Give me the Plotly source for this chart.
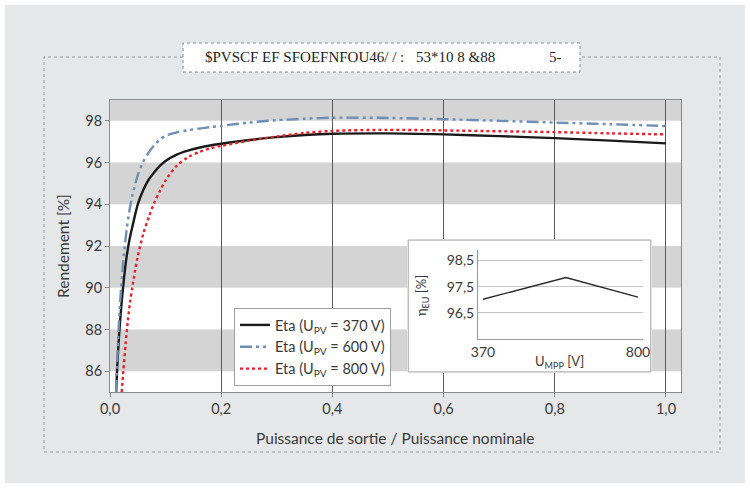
import plotly.graph_objects as go

W, H = 750, 488
def px(x): return x / W
def py(y): return 1 - y / H

# ---------------- data ----------------
ratio_370 = [0.011, 0.013, 0.016, 0.02, 0.025, 0.03, 0.035, 0.04, 0.05, 0.06, 0.07, 0.08, 0.09, 0.1,
             0.12, 0.14, 0.16, 0.18, 0.2, 0.25, 0.3, 0.35, 0.4, 0.5, 0.6, 0.7, 0.8, 0.9, 1.0]
eta_370 = [85.0, 86.2, 87.6, 89.0, 90.4, 91.5, 92.3, 92.9, 94.0, 94.7, 95.2, 95.55, 95.85, 96.08,
           96.38, 96.57, 96.71, 96.82, 96.9, 97.08, 97.22, 97.32, 97.38, 97.4, 97.35, 97.27, 97.17, 97.05, 96.92]

ratio_600 = [0.011, 0.013, 0.016, 0.02, 0.025, 0.03, 0.035, 0.04, 0.05, 0.06, 0.07, 0.08, 0.09, 0.1,
             0.12, 0.14, 0.16, 0.18, 0.2, 0.25, 0.3, 0.35, 0.4, 0.5, 0.6, 0.7, 0.8, 0.9, 1.0]
eta_600 = [85.0, 86.5, 88.3, 90.0, 91.6, 92.8, 93.7, 94.4, 95.4, 96.05, 96.5, 96.85, 97.1, 97.28,
           97.45, 97.55, 97.63, 97.7, 97.76, 97.92, 98.03, 98.1, 98.15, 98.14, 98.08, 98.0, 97.92, 97.84, 97.75]

ratio_800 = [0.021, 0.024, 0.028, 0.032, 0.036, 0.04, 0.045, 0.05, 0.06, 0.07, 0.08, 0.09, 0.1,
             0.12, 0.14, 0.16, 0.18, 0.2, 0.25, 0.3, 0.35, 0.4, 0.5, 0.6, 0.7, 0.8, 0.9, 1.0]
eta_800 = [85.0, 86.0, 87.3, 88.4, 89.3, 90.0, 90.8, 91.5, 92.6, 93.4, 94.1, 94.65, 95.15,
           95.85, 96.25, 96.5, 96.68, 96.8, 97.05, 97.25, 97.42, 97.52, 97.57, 97.54, 97.5, 97.46, 97.4, 97.35]

series_names = ["Eta (U<sub>PV</sub> = 370 V)", "Eta (U<sub>PV</sub> = 600 V)", "Eta (U<sub>PV</sub> = 800 V)"]

inset_u = [370, 600, 800]
inset_eta_eu = [97.02, 97.85, 97.1]

x_ticks = [0.0, 0.2, 0.4, 0.6, 0.8, 1.0]
y_ticks = [86, 88, 90, 92, 94, 96, 98]
inset_x_ticks = [370, 800]
inset_y_ticks = [96.5, 97.5, 98.5]
band_ranges = [(86, 88), (90, 92), (94, 96), (98, 99)]

title_parts = ["$PVSCF EF SFOEFNFOU46/ / :", "53*10 8 &88", "5-"]

# ---------------- figure ----------------
FONT = "Lato"
TXT = "#3a3a3a"

fig = go.Figure()

fig.add_trace(go.Scatter(x=ratio_370, y=eta_370, name=series_names[0], mode="lines",
                         line=dict(color="#1a1a1a", width=2.4, shape="spline", smoothing=0.8),
                         xaxis="x", yaxis="y", hoverinfo="skip"))
fig.add_trace(go.Scatter(x=ratio_600, y=eta_600, name=series_names[1], mode="lines",
                         line=dict(color="#6f8fb6", width=2.4, dash="12px,4px,3px,4px,3px,4px",
                                   shape="spline", smoothing=0.8),
                         xaxis="x", yaxis="y", hoverinfo="skip"))
fig.add_trace(go.Scatter(x=ratio_800, y=eta_800, name=series_names[2], mode="lines",
                         line=dict(color="#e8222c", width=2.4, dash="dot", shape="spline", smoothing=0.8),
                         xaxis="x", yaxis="y", hoverinfo="skip"))

# inset white box (own subplot so it sits above main grid/bands)
fig.add_trace(go.Scatter(x=[0, 1, 1, 0, 0], y=[0, 0, 1, 1, 0], mode="lines", fill="toself",
                         fillcolor="white", line=dict(color="#a0a0a0", width=1),
                         xaxis="x2", yaxis="y2", showlegend=False, hoverinfo="skip"))

# inset line
fig.add_trace(go.Scatter(x=inset_u, y=inset_eta_eu, mode="lines",
                         line=dict(color="#2a2a2a", width=1.4),
                         xaxis="x3", yaxis="y3", showlegend=False, hoverinfo="skip"))

shapes = []
for y0, y1 in band_ranges:
    shapes.append(dict(type="rect", xref="x domain", yref="y", x0=0, x1=1, y0=y0, y1=y1,
                       fillcolor="#d4d4d4", line=dict(width=0), layer="below"))
# outer dotted frame
shapes.append(dict(type="rect", xref="paper", yref="paper", x0=px(44), x1=px(720), y0=py(452), y1=py(57),
                   line=dict(color="#9a9a9a", width=1, dash="dot"), fillcolor="rgba(0,0,0,0)", layer="below"))
# title box
shapes.append(dict(type="rect", xref="paper", yref="paper", x0=px(183), x1=px(580), y0=py(72), y1=py(43),
                   line=dict(color="#8a8a8a", width=1, dash="dot"), fillcolor="white", layer="above"))
# white page margin
shapes.append(dict(type="rect", xref="paper", yref="paper", x0=0, x1=1, y0=0, y1=1,
                   line=dict(color="white", width=10), fillcolor="rgba(0,0,0,0)", layer="above"))

def ann(text, x, y, size, angle=0, xanchor="center", family=FONT, color=TXT):
    return dict(text=text, x=px(x), y=py(y), xref="paper", yref="paper", textangle=angle,
                xanchor=xanchor, yanchor="middle", showarrow=False,
                font=dict(size=size, color=color, family=family))

annotations = [
    ann("Rendement [%]", 63, 246, 15.5, angle=-90),
    ann("Puissance de sortie / Puissance nominale", 395, 438, 15.5),
    ann("η<sub>EU</sub> [%]", 422, 296, 13, angle=-90),
    ann("U<sub>MPP</sub> [V]", 559, 362, 13),
    ann(title_parts[0], 203, 57, 15, xanchor="left", family="Liberation Serif", color="#222"),
    ann(title_parts[1], 414, 57, 15, xanchor="left", family="Liberation Serif", color="#222"),
    ann(title_parts[2], 547, 57, 15, xanchor="left", family="Liberation Serif", color="#222"),
]

fig.update_layout(
    width=W, height=H,
    margin=dict(l=0, r=0, t=0, b=0),
    paper_bgcolor="#e5e7e9",
    plot_bgcolor="white",
    separators=", ",
    font=dict(family=FONT, color=TXT),
    showlegend=True,
    legend=dict(x=px(234), y=py(308), xanchor="left", yanchor="top", bgcolor="white",
                bordercolor="#a0a0a0", borderwidth=1, font=dict(size=14.5, color=TXT, family=FONT),
                itemwidth=30, tracegroupgap=0),
    xaxis=dict(domain=[px(110), px(681)], range=[0, 1.027], tickvals=x_ticks, tickformat=".1f",
               showgrid=True, gridcolor="#5a5a5a", gridwidth=1, zeroline=False,
               showline=True, linecolor="#8a8a8a", linewidth=1, mirror=True,
               ticks="outside", ticklen=4, tickcolor="#8a8a8a",
               tickfont=dict(size=14.5, color=TXT), anchor="y", automargin=False),
    yaxis=dict(domain=[py(392), py(100)], range=[85, 99], tickvals=y_ticks,
               showgrid=False, zeroline=False, showline=True, linecolor="#8a8a8a", linewidth=1, mirror=True,
               ticks="outside", ticklen=4, tickcolor="#8a8a8a",
               tickfont=dict(size=14.5, color=TXT), anchor="x", automargin=False),
    xaxis2=dict(domain=[px(407), px(652)], range=[-0.005, 1.005], visible=False, anchor="y2"),
    yaxis2=dict(domain=[py(373), py(239)], range=[-0.008, 1.008], visible=False, anchor="x2"),
    xaxis3=dict(domain=[px(478), px(643)], range=[356, 814], tickvals=inset_x_ticks,
                showgrid=False, zeroline=False, showline=True, linecolor="#9a9a9a", linewidth=1,
                ticks="", tickfont=dict(size=14, color=TXT), anchor="y3", automargin=False),
    yaxis3=dict(domain=[py(339), py(250)], range=[95.5, 98.9], tickvals=inset_y_ticks, tickformat=".1f",
                showgrid=True, gridcolor="#c4c4c4", gridwidth=1, zeroline=False,
                showline=True, linecolor="#9a9a9a", linewidth=1,
                ticks="", tickfont=dict(size=14, color=TXT), anchor="x3", automargin=False),
    shapes=shapes,
    annotations=annotations,
)

fig.write_html("out.html",
               config={"displayModeBar": False},
               post_script="document.body.style.margin='0';document.body.style.padding='0';")
